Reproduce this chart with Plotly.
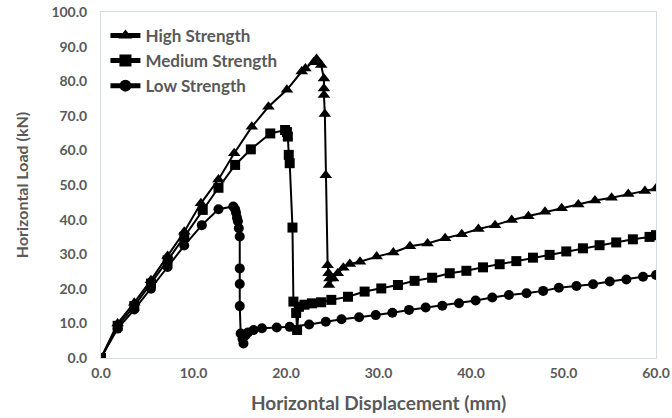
import plotly.graph_objects as go

# ---- data ----
high_x = [0, 1.8, 3.6, 5.4, 7.2, 9.0, 10.8, 12.7, 14.4, 16.3, 18.1, 20.1, 21.7, 22.1, 23.0, 23.3, 23.8,
          24.1, 24.1, 24.1, 24.2, 24.3, 24.5, 24.6, 24.7, 24.65, 25.1, 25.6, 26.2, 26.9, 28.0, 29.8,
          31.6, 33.4, 35.3, 37.2, 39.0, 40.8, 42.6, 44.4, 46.2, 48.0, 49.8, 51.6, 53.4, 55.2, 57.0, 58.8, 60.0]
high_y = [0, 10.0, 16.0, 22.5, 29.5, 36.5, 44.7, 51.6, 59.2, 66.8, 72.6, 77.5, 82.8, 83.7, 85.5, 86.4, 84.7,
          80.8, 77.9, 76.0, 70.5, 52.8, 26.8, 24.5, 23.0, 21.1, 23.0, 24.5, 26.1, 27.2, 27.8, 29.3,
          30.5, 32.3, 33.1, 34.6, 35.8, 37.3, 38.4, 39.9, 41.0, 42.3, 43.3, 44.4, 45.5, 46.3, 47.4, 48.3, 49.0]

med_x = [0, 1.8, 3.6, 5.4, 7.2, 9.0, 11.0, 12.7, 14.5, 16.2, 18.3, 19.9, 20.1, 20.2, 20.3, 20.4, 20.7,
         20.8, 21.1, 21.2, 21.4, 22.0, 22.8, 23.8, 24.9, 26.7, 28.5, 30.3, 32.1, 33.9, 35.8, 37.7, 39.5,
         41.3, 43.1, 44.9, 46.7, 48.5, 50.3, 52.1, 53.9, 55.7, 57.5, 59.3, 60.0]
med_y = [0, 9.3, 15.0, 21.5, 28.2, 35.0, 42.8, 49.2, 55.8, 60.3, 64.9, 65.9, 65.3, 64.0, 58.7, 56.3, 37.7,
         16.3, 13.0, 8.1, 14.8, 15.4, 15.8, 16.1, 16.8, 17.7, 19.2, 20.1, 21.1, 22.3, 23.2, 24.5, 25.2,
         26.2, 27.1, 28.0, 29.0, 29.8, 30.8, 31.7, 32.6, 33.4, 34.3, 35.0, 35.5]

low_x = [0, 1.8, 3.6, 5.4, 7.2, 9.0, 10.9, 12.7, 14.3, 14.5, 14.6, 14.7, 14.8, 14.9, 15.0, 15.0, 15.0,
         15.0, 15.1, 15.3, 15.4, 15.6, 15.9, 16.5, 17.4, 19.0, 20.4, 22.5, 24.3, 26.0, 27.9, 29.7, 31.5,
         33.3, 35.1, 36.9, 38.7, 40.5, 42.3, 44.1, 46.0, 47.8, 49.5, 51.4, 53.2, 55.0, 56.8, 58.6, 60.0]
low_y = [0, 8.5, 14.0, 20.0, 26.3, 32.5, 38.4, 43.0, 43.8, 43.0, 42.0, 40.5, 39.5, 37.5, 35.1, 25.9, 21.4,
         15.0, 7.1, 5.5, 4.2, 6.5, 7.4, 8.1, 8.6, 8.8, 9.0, 9.7, 10.5, 11.2, 11.8, 12.4, 13.1,
         13.9, 14.6, 15.1, 15.8, 16.6, 17.5, 18.2, 18.7, 19.4, 20.3, 20.8, 21.3, 22.1, 22.7, 23.5, 24.0]

series_names = ["High Strength", "Medium Strength", "Low Strength"]
x_ticks = [0, 10, 20, 30, 40, 50, 60]
y_ticks = [0, 10, 20, 30, 40, 50, 60, 70, 80, 90, 100]

FONT = "Lato"
GRAY = "#595959"

fig = go.Figure()
for name, xs, ys, sym, sz in [
    (series_names[0], high_x, high_y, "triangle-up", 11),
    (series_names[1], med_x, med_y, "square", 10),
    (series_names[2], low_x, low_y, "circle", 10),
]:
    fig.add_trace(go.Scatter(
        x=xs, y=ys, name=name, mode="lines+markers",
        line=dict(color="black", width=2),
        marker=dict(symbol=sym, size=sz, color="black"),
    ))

axis_common = dict(
    showgrid=False, zeroline=False, showline=True, mirror=True,
    linecolor="#d5dce6", linewidth=1, ticks="", automargin=False,
    tickfont=dict(family=FONT, size=14, color=GRAY, weight="bold"),
    tickformat=".1f",
)

fig.update_layout(
    width=672, height=418,
    margin=dict(l=101, r=16, t=12, b=60),
    paper_bgcolor="white", plot_bgcolor="white",
    font=dict(family=FONT, color=GRAY),
    showlegend=True,
    legend=dict(
        x=0.008, y=0.983, xanchor="left", yanchor="top",
        bgcolor="rgba(0,0,0,0)",
        font=dict(family=FONT, size=17, color=GRAY, weight="bold"),
        tracegroupgap=0, itemsizing="constant",
    ),
    xaxis=dict(
        range=[0, 60], tickvals=x_ticks, ticklabelstandoff=2,
        title=dict(text="Horizontal Displacement (mm)", standoff=16,
                   font=dict(family=FONT, size=19, color=GRAY, weight="bold")),
        **axis_common,
    ),
    yaxis=dict(
        range=[0, 100], tickvals=y_ticks, ticklabelstandoff=10,
        title=dict(text="Horizontal Load (kN)", standoff=18,
                   font=dict(family=FONT, size=16, color=GRAY, weight="bold")),
        **axis_common,
    ),
)

fig.write_html(
    "out.html",
    config={"displayModeBar": False},
    post_script="document.body.style.margin='0';document.body.style.overflow='hidden';",
)
